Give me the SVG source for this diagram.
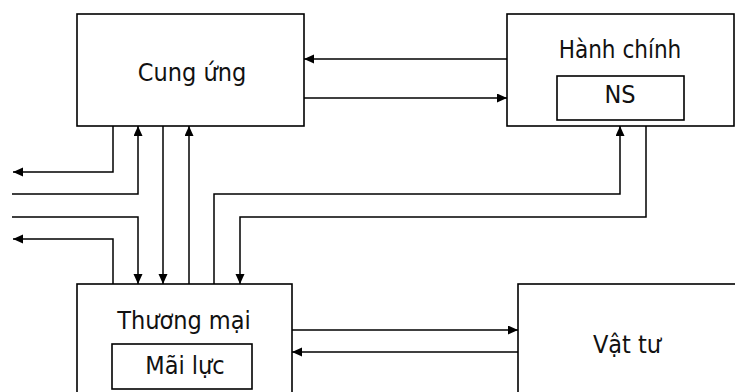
<svg xmlns="http://www.w3.org/2000/svg" width="735" height="392" viewBox="0 0 735 392">
<defs>
<marker id="ah" markerUnits="userSpaceOnUse" markerWidth="10" markerHeight="10" refX="10" refY="4.5" orient="auto">
<path d="M0,0 L10,4.5 L0,9 z" fill="#000"/>
</marker>
<style>
.box{fill:#fff;stroke:#000;stroke-width:1.6}
.ln{fill:none;stroke:#000;stroke-width:1.5}
.ar{fill:none;stroke:#000;stroke-width:1.5;marker-end:url(#ah)}
text{font-family:"DejaVu Sans Condensed","DejaVu Sans","Liberation Sans",sans-serif;font-stretch:condensed;font-size:25px;fill:#111;text-anchor:middle}
</style>
</defs>
<rect width="735" height="392" fill="#fff"/>
<g id="connectors">
<path class="ar" d="M507,59 H304"/>
<path class="ar" d="M304,98 H507"/>
<path class="ar" d="M113,126 V172 H13"/>
<path class="ar" d="M12,194 H138 V126"/>
<path class="ar" d="M163,126 V284"/>
<path class="ar" d="M189,284 V126"/>
<path class="ar" d="M214,284 V194 H620 V126"/>
<path class="ar" d="M646,126 V217 H240 V284"/>
<path class="ar" d="M12,217 H138 V284"/>
<path class="ar" d="M113,284 V239 H13"/>
<path class="ar" d="M291,330 H518"/>
<path class="ar" d="M518,352 H292"/>
</g>
<g id="cung-ung">
<rect class="box" x="77" y="14" width="227" height="112"/>
<text x="192" y="81">Cung ứng</text>
</g>
<g id="hanh-chinh">
<rect class="box" x="507" y="14" width="227" height="112"/>
<text x="620" y="58" style="font-size:24px">Hành chính</text>
<g id="ns">
<rect class="box" x="557" y="76" width="127" height="44"/>
<text x="620" y="103">NS</text>
</g>
</g>
<g id="thuong-mai">
<rect class="box" x="77" y="284" width="215" height="130"/>
<text x="184" y="329">Thương mại</text>
<g id="mai-luc">
<rect class="box" x="112" y="344" width="140" height="45"/>
<text x="185" y="374">Mãi lực</text>
</g>
</g>
<g id="vat-tu">
<rect class="box" x="518" y="284" width="230" height="130"/>
<text x="627" y="353">Vật tư</text>
</g>
</svg>
